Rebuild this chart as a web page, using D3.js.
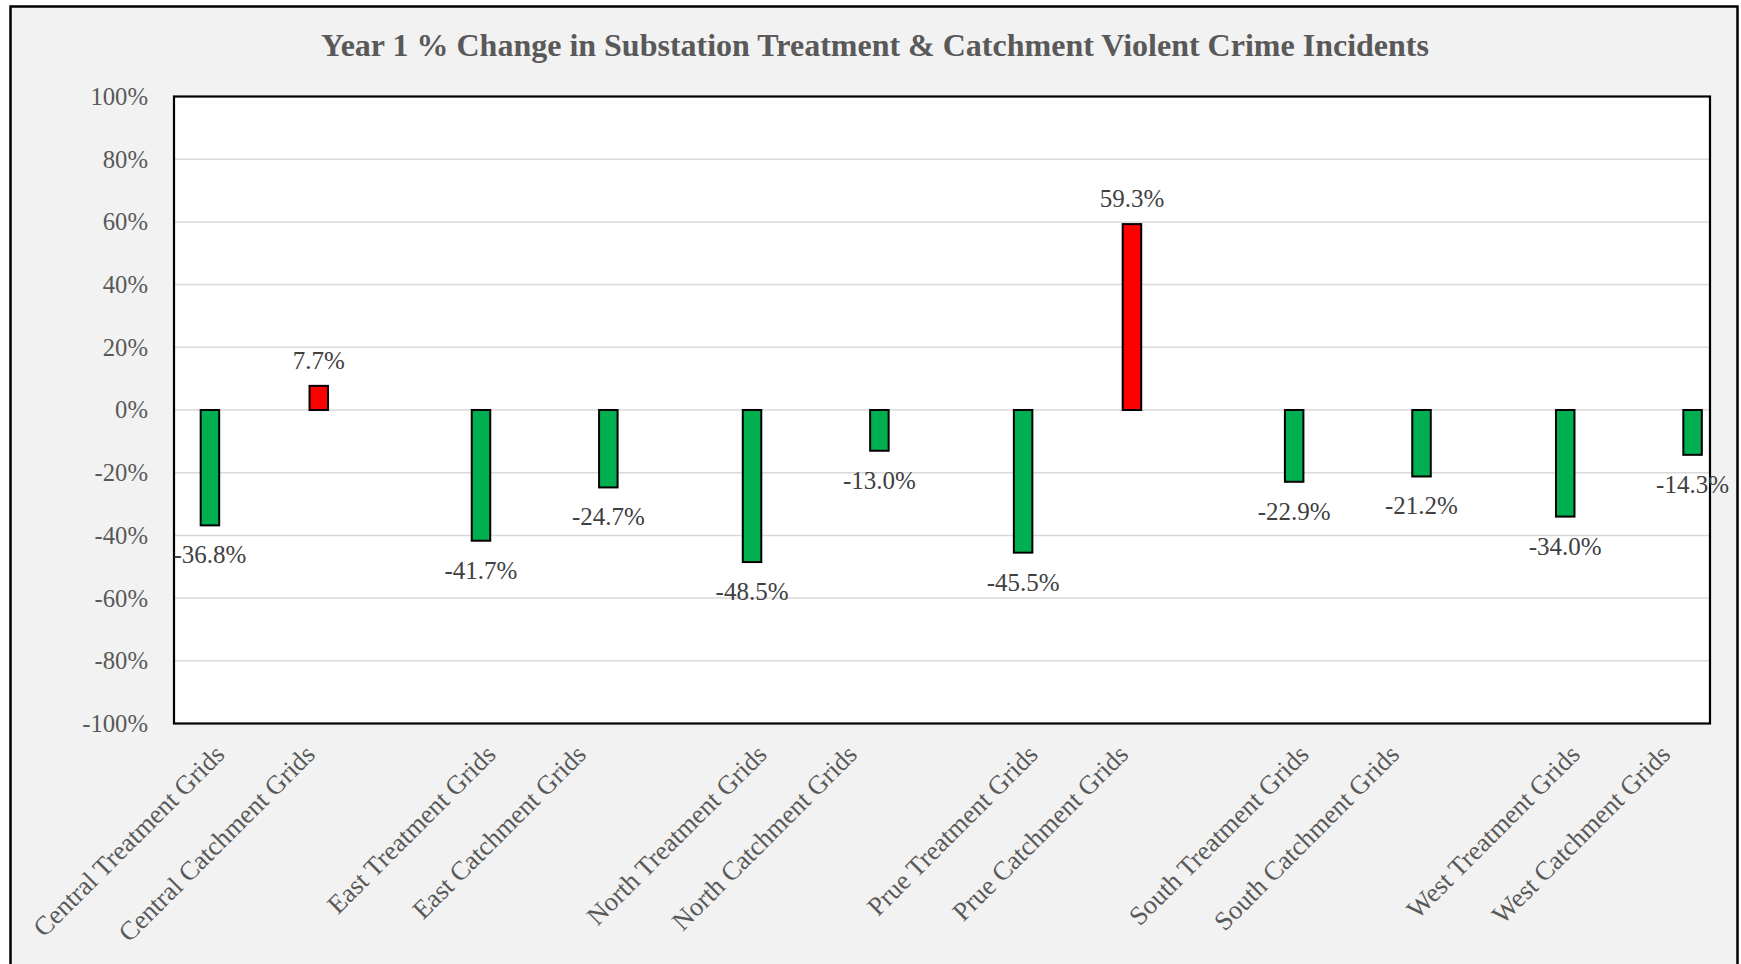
<!DOCTYPE html>
<html>
<head>
<meta charset="utf-8">
<script src="https://cdn.jsdelivr.net/npm/d3@7"></script>
<style>
  html, body { margin: 0; padding: 0; background: #ffffff; }
  svg { display: block; }
  text { font-family: "Times New Roman", "Liberation Serif", serif; }
</style>
</head>
<body>
<svg id="chart" width="1741" height="964"></svg>
<script>
// ---- data ----
const substations = ["Central", "East", "North", "Prue", "South", "West"];
const categories = [
  "Central Treatment Grids", "Central Catchment Grids",
  "East Treatment Grids", "East Catchment Grids",
  "North Treatment Grids", "North Catchment Grids",
  "Prue Treatment Grids", "Prue Catchment Grids",
  "South Treatment Grids", "South Catchment Grids",
  "West Treatment Grids", "West Catchment Grids"
];
const values = [-36.8, 7.7, -41.7, -24.7, -48.5, -13.0, -45.5, 59.3, -22.9, -21.2, -34.0, -14.3];
const seriesNames = ["Treatment Increase", "Treatment Decrease", "Catchment Increase", "Catchment Decrease"];
const yTicks = [-100, -80, -60, -40, -20, 0, 20, 40, 60, 80, 100];
const titleText = "Year 1 % Change in Substation Treatment & Catchment Violent Crime Incidents";

// ---- layout ----
const W = 1741, H = 964;
const plot = { left: 174, top: 96.5, right: 1710, bottom: 723.5 };
const svg = d3.select("#chart");

// category slots: each substation pair followed by an empty spacer slot
const slots = [];
substations.forEach((s, i) => {
  categories.filter(c => c.startsWith(s + " ")).forEach(c => slots.push(c));
  if (i < substations.length - 1) slots.push("spacer-" + i);
});

const x0 = d3.scaleBand().domain(slots).range([plot.left, plot.right]).paddingInner(0).paddingOuter(0);
const x1 = d3.scaleBand().domain(seriesNames).range([0, x0.bandwidth()]).paddingInner(0).paddingOuter(0.442);
const y = d3.scaleLinear().domain([-100, 100]).range([plot.bottom, plot.top]);

const bars = categories.map((c, i) => {
  const kind = c.includes("Treatment") ? "Treatment" : "Catchment";
  const dir = values[i] >= 0 ? "Increase" : "Decrease";
  return { cat: c, value: values[i], series: kind + " " + dir, dir };
});
const color = d3.scaleOrdinal().domain(["Increase", "Decrease"]).range(["#FF0000", "#00B050"]);
const pct = v => v.toFixed(1) + "%";

// chart frame
svg.append("rect")
  .attr("x", 10.5).attr("y", 6.5)
  .attr("width", 1727).attr("height", H + 20)
  .attr("fill", "#f2f2f2").attr("stroke", "#000").attr("stroke-width", 2.5);

// title
svg.append("text")
  .attr("x", 875).attr("y", 56)
  .attr("text-anchor", "middle")
  .attr("font-size", 32).attr("font-weight", "bold")
  .attr("fill", "#595959")
  .text(titleText);

// plot area
svg.append("rect")
  .attr("x", plot.left).attr("y", plot.top)
  .attr("width", plot.right - plot.left).attr("height", plot.bottom - plot.top)
  .attr("fill", "#ffffff");

// gridlines
svg.append("g")
  .selectAll("line")
  .data(yTicks.filter(t => t > -100 && t < 100))
  .join("line")
  .attr("x1", plot.left).attr("x2", plot.right)
  .attr("y1", d => y(d)).attr("y2", d => y(d))
  .attr("stroke", "#d9d9d9").attr("stroke-width", 1.5);

// y axis labels
const yAxis = d3.axisLeft(y).tickValues(yTicks).tickSize(0).tickPadding(26)
  .tickFormat(d => d + "%");
const yg = svg.append("g").attr("transform", `translate(${plot.left},0)`).call(yAxis);
yg.select(".domain").remove();
yg.selectAll("text")
  .attr("font-family", '"Times New Roman", "Liberation Serif", serif')
  .attr("font-size", 24.7).attr("fill", "#595959");

// bars
svg.append("g")
  .selectAll("rect")
  .data(bars)
  .join("rect")
  .attr("x", d => x0(d.cat) + x1(d.series))
  .attr("width", x1.bandwidth())
  .attr("y", d => Math.min(y(d.value), y(0)))
  .attr("height", d => Math.abs(y(d.value) - y(0)))
  .attr("fill", d => color(d.dir))
  .attr("stroke", "#000").attr("stroke-width", 2);

// plot border
svg.append("rect")
  .attr("x", plot.left).attr("y", plot.top)
  .attr("width", plot.right - plot.left).attr("height", plot.bottom - plot.top)
  .attr("fill", "none").attr("stroke", "#000").attr("stroke-width", 2.2);

// value labels
svg.append("g")
  .selectAll("text")
  .data(bars)
  .join("text")
  .attr("x", d => x0(d.cat) + x1(d.series) + x1.bandwidth() / 2)
  .attr("y", d => d.value >= 0 ? y(d.value) - 17 : y(d.value) + 38)
  .attr("text-anchor", "middle")
  .attr("font-size", 25).attr("fill", "#404040")
  .text(d => pct(d.value));

// category labels
svg.append("g")
  .selectAll("text")
  .data(categories)
  .join("text")
  .attr("transform", d => {
    const cx = x0(d) + x0.bandwidth() / 2 + 7;
    return `translate(${cx},756) rotate(-45)`;
  })
  .attr("text-anchor", "end")
  .attr("font-size", 26.5).attr("fill", "#595959")
  .text(d => d);
</script>
</body>
</html>
